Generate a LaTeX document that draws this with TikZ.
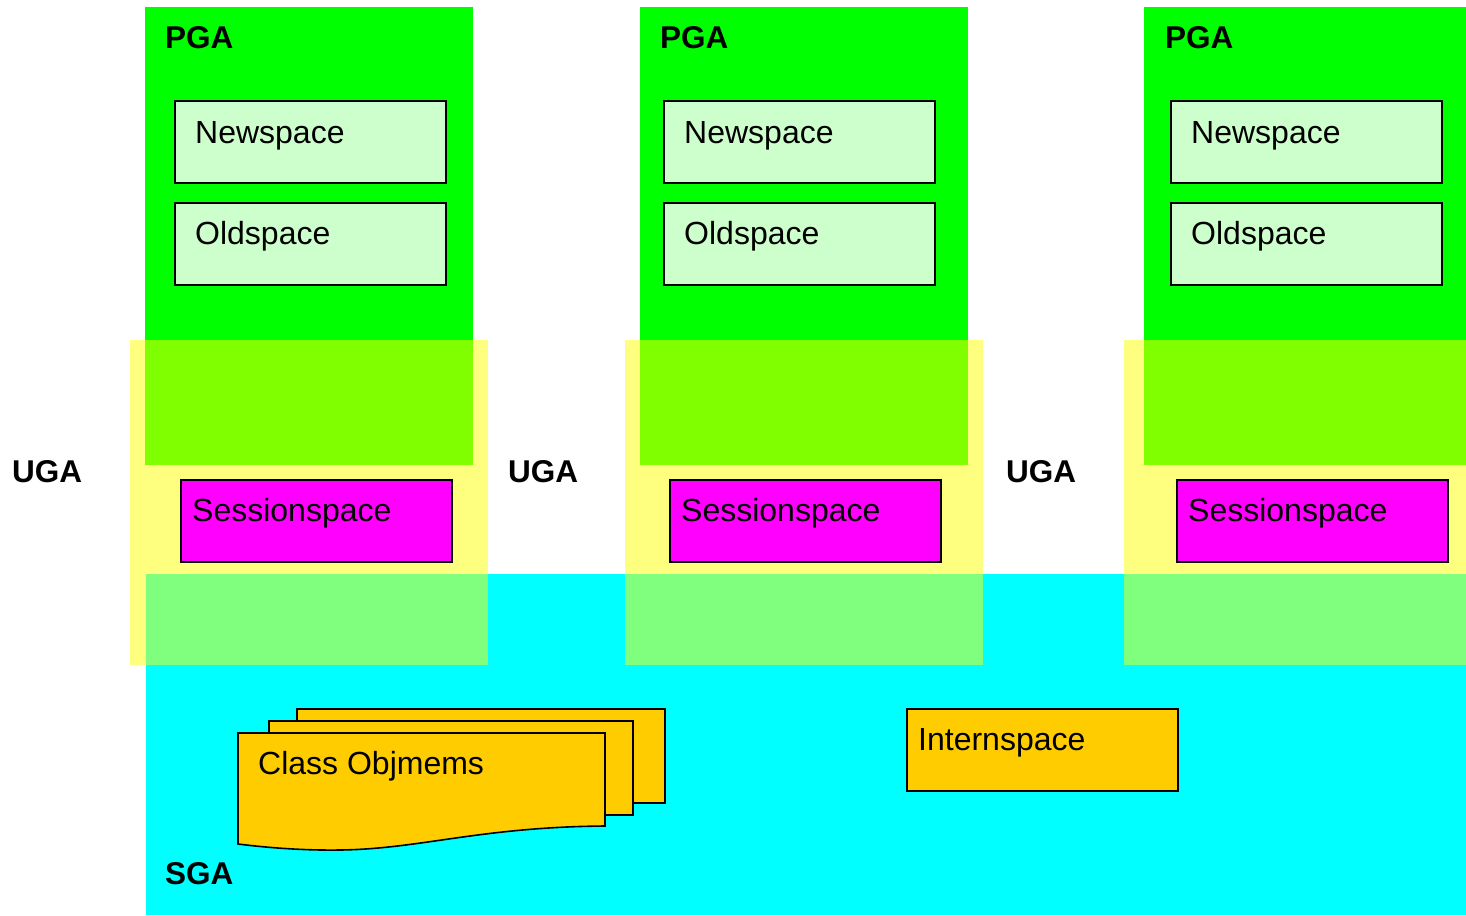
\documentclass[tikz,border=0pt]{standalone}
\usepackage{fontspec}
\setmainfont{Liberation Sans}
\usetikzlibrary{calc}
\definecolor{pgagreen}{HTML}{00FF00}
\definecolor{sgacyan}{HTML}{00FFFF}
\definecolor{ugayellow}{HTML}{FFFF00}
\definecolor{heapgreen}{HTML}{CCFFCC}
\definecolor{sessmagenta}{HTML}{FF00FF}
\definecolor{internorange}{HTML}{FFCC00}
\begin{document}
\begin{tikzpicture}[x=1pt,y=-1pt,
  region/.style={rectangle, draw=none, inner sep=0pt, outer sep=0pt, anchor=north west},
  pga/.style={region, fill=pgagreen, minimum height=458pt},
  sga/.style={region, fill=sgacyan},
  uga/.style={region, fill=ugayellow, fill opacity=0.5, minimum height=325pt},
  heapbox/.style={rectangle, draw=black, line width=1.6pt, inner sep=0pt, outer sep=0pt,
    anchor=north west, minimum width=271pt, minimum height=82pt},
  heap/.style={heapbox, fill=heapgreen},
  sess/.style={heapbox, fill=sessmagenta},
  intern/.style={heapbox, fill=internorange},
  sheet/.style={draw=black, line width=1.6pt, fill=internorange, line join=miter},
  txt/.style={inner sep=0pt, anchor=base west, font=\fontsize{32}{36}\selectfont},
  area/.style={inner sep=0pt, anchor=base west, font=\fontsize{31.5}{36}\selectfont\bfseries},
]
\useasboundingbox (0,0) rectangle (1466,915);

% process global areas
\node[pga, minimum width=328pt] (pga1) at (145,7) {};
\node[pga, minimum width=328pt] (pga2) at (640,7) {};
\node[pga, minimum width=322pt] (pga3) at (1144,7) {};

% shared global area
\node[sga, minimum width=1320pt, minimum height=341pt] (sga) at (146,574) {};

% user global areas (translucent)
\node[uga, minimum width=358pt] (uga1) at (130,340) {};
\node[uga, minimum width=358pt] (uga2) at (625,340) {};
\node[uga, minimum width=342pt] (uga3) at (1124,340) {};

% per-process heaps
\foreach \i/\x in {1/175, 2/664, 3/1171} {
  \node[heap] (new\i) at (\x,101) {};
  \node[txt] at ($(new\i.north west)+(20,42)$) {Newspace};
  \node[heap] (old\i) at (\x,203) {};
  \node[txt] at ($(old\i.north west)+(20,41)$) {Oldspace};
}

% session spaces
\foreach \i/\x in {1/181, 2/670, 3/1177} {
  \node[sess] (sess\i) at (\x,480) {};
  \node[txt] at ($(sess\i.north west)+(11,41)$) {Sessionspace};
}

% intern space
\node[intern] (intern) at (907,709) {};
\node[txt] at ($(intern.north west)+(11,41)$) {Internspace};

% class objmems: stacked sheets
\draw[sheet] (297,709) rectangle (665,803);
\draw[sheet] (269,721) rectangle (633,815);
\draw[sheet] (238,733) -- (605,733) -- (605,826)
  .. controls (480,827) and (420,849) .. (340,850)
  .. controls (305,850.5) and (270,848) .. (238,844) -- cycle;
\node[txt] (objmems) at (258,774) {Class Objmems};

% area labels
\node[area] (pgalbl1) at (165,48.5) {PGA};
\node[area] (pgalbl2) at (660,48.5) {PGA};
\node[area] (pgalbl3) at (1165,48.5) {PGA};
\node[area] (ugalbl1) at (12,482.5) {UGA};
\node[area] (ugalbl2) at (508,482.5) {UGA};
\node[area] (ugalbl3) at (1006,482.5) {UGA};
\node[area] (sgalbl) at (165,884.5) {SGA};
\end{tikzpicture}
\end{document}
